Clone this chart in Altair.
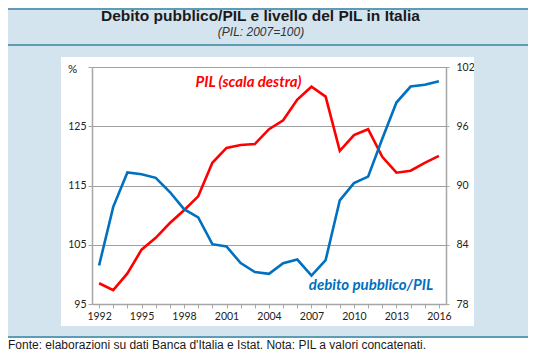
import altair as alt
import pandas as pd

years = list(range(1992, 2017))
debito = [101.5, 111.4, 117.2, 116.9, 116.3, 113.9, 111.0, 109.6, 105.1, 104.7,
          101.9, 100.4, 100.1, 101.9, 102.5, 99.8, 102.4, 112.5, 115.4, 116.5,
          122.9, 129.0, 131.7, 132.0, 132.6]
pil = [80.1, 79.4, 81.1, 83.5, 84.7, 86.2, 87.5, 88.9, 92.3, 93.8,
       94.1, 94.2, 95.7, 96.6, 98.7, 100.0, 99.0, 93.5, 95.1, 95.7,
       92.9, 91.3, 91.5, 92.3, 93.0]
left_ticks = [95, 105, 115, 125, 135]
right_ticks = [78, 84, 90, 96, 102]

title_text = "Debito pubblico/PIL e livello del PIL in Italia"
subtitle_text = "(PIL: 2007=100)"
footer_text = "Fonte: elaborazioni su dati Banca d'Italia e Istat. Nota: PIL a valori concatenati."
label_pil = "PIL (scala destra)"
label_debito = "debito pubblico/PIL"

df = pd.DataFrame({"anno": years, "debito": debito, "pil": pil})
one = pd.DataFrame({"a": [0]})

BG = "#d4e4ee"
TEAL = "#5e9bb5"
BLUE = "#0070c0"
RED = "#ff0000"
AX = "#a6a6a6"

W, H = 354, 237

def rect(x1, x2, y1, y2, color):
    return alt.Chart(one).mark_rect(color=color, strokeWidth=0).encode(
        x=alt.value(x1), x2=alt.value(x2), y=alt.value(y1), y2=alt.value(y2))

def rule(x1, x2, y, color, w):
    return alt.Chart(one).mark_rule(color=color, strokeWidth=w).encode(
        x=alt.value(x1), x2=alt.value(x2), y=alt.value(y))

def text(s, x, y, size, color, font, weight="normal", style="normal", align="center"):
    return alt.Chart(one).mark_text(
        align=align, baseline="middle", fontSize=size, color=color, font=font,
        fontWeight=weight, fontStyle=style).encode(
        x=alt.value(x), y=alt.value(y), text=alt.value(s))

decor = [
    rect(-84, 436, -59, -10, BG),
    rect(-84, -31, -10, 270, BG),
    rect(382, 436, -10, 270, BG),
    rect(-31, 382, 259, 270, BG),
    rule(-84, 436, -58, TEAL, 2.2),
    rule(-84, 436, -22, TEAL, 2.2),
    rule(-84, 436, 270, TEAL, 2.2),
    text(title_text, 168.5, -51, 15.5, "#1a1a1a", "Liberation Sans", weight="bold"),
    text(subtitle_text, 169, -35, 12, "#333333", "Liberation Sans", style="italic"),
    text(footer_text, -84, 278, 12, "#1a1a1a", "Liberation Sans", align="left"),
    text("%", -19.5, 3, 11.5, "#222222", "Lato"),
    text(label_pil, 156.5, 15, 15, RED, "Lato", weight="bold", style="italic"),
    text(label_debito, 279, 218, 15, BLUE, "Lato", weight="bold", style="italic"),
]

xenc = alt.X("anno:Q", scale=alt.Scale(domain=[1991.5, 2016.5], nice=False, zero=False),
             axis=alt.Axis(title=None, values=years, format="d",
                           labelExpr="(datum.value - 1992) % 3 == 0 ? datum.label : ''",
                           labelOverlap=False, tickSize=4, tickColor=AX, domainColor=AX,
                           domainWidth=1.5, grid=False, labelPadding=3,
                           labelFont="Lato", labelFontSize=10.5, labelColor="#222222"))

red_line = alt.Chart(df).mark_line(color=RED, strokeWidth=2.6).encode(
    x=xenc,
    y=alt.Y("pil:Q", scale=alt.Scale(domain=[78, 102], nice=False, zero=False),
            axis=alt.Axis(title=None, orient="right", values=right_ticks, grid=False,
                          tickSize=3, tickColor=AX, domainColor=AX, domainWidth=1.5,
                          labelPadding=7, labelFont="Lato", labelFontSize=10.5,
                          labelColor="#222222")))

blue_line = alt.Chart(df).mark_line(color=BLUE, strokeWidth=2.6).encode(
    x=xenc,
    y=alt.Y("debito:Q", scale=alt.Scale(domain=[95, 135], nice=False, zero=False),
            axis=alt.Axis(title=None, orient="left", values=left_ticks, grid=True,
                          gridColor="#a0a0a0", gridWidth=1,
                          labelExpr="datum.value == 135 ? '' : datum.label",
                          tickSize=4, tickColor=AX, domainColor=AX, domainWidth=1.5,
                          labelPadding=2, labelFont="Lato", labelFontSize=10.5,
                          labelColor="#222222")))

chart = alt.layer(*decor, red_line, blue_line).resolve_scale(y="independent").properties(
    width=W, height=H,
    autosize=alt.AutoSizeParams(type="none"),
    padding={"left": 84, "top": 59, "right": 82, "bottom": 47},
    background="white",
).configure_view(stroke=None)

chart.save("out.html", embed_options={"renderer": "svg", "actions": False})
